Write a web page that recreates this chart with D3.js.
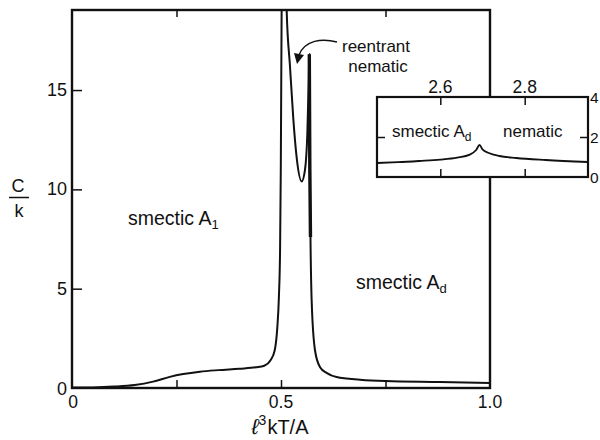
<!DOCTYPE html>
<html>
<head>
<meta charset="utf-8">
<script src="https://cdn.jsdelivr.net/npm/d3@7"></script>
<style>
body{margin:0;background:#fff;}
svg{display:block;}
text{font-family:"Liberation Sans",Arial,sans-serif;fill:#111;}
</style>
</head>
<body>
<svg id="chart" width="600" height="440"></svg>
<script>
// ---- data ----
const mainX = [0,0.05,0.1,0.15,0.194,0.234,0.266,0.306,0.35,0.4,0.44,0.46,0.475,0.485,0.491,0.495,0.4978,0.4995,0.5015,0.505,0.509,0.5136,0.5215,0.5293,0.5375,0.5495,0.5575,0.563,0.5663,0.5677,0.569,0.5705,0.5735,0.5813,0.593,0.61,0.633,0.689,0.75,0.88,1.0];
const mainC = [0.02,0.03,0.07,0.15,0.32,0.56,0.7,0.82,0.9,0.97,1.04,1.12,1.4,1.9,3.0,4.6,7,11,19,24,24,19,16.2,13.6,11.6,10.4,11,12.8,15.4,16.8,11,7.6,4.3,1.9,1.06,0.75,0.55,0.42,0.35,0.3,0.25];
const xTicks = [0,0.5,1.0];
const xTickLabels = ["0","0.5","1.0"];
const xMinorTicks = [0.25,0.5,0.75];
const yTicks = [0,5,10,15];
const yTickLabels = ["0","5","10","15"];

const insetX = [2.45,2.5,2.55,2.6,2.64,2.67,2.685,2.693,2.70,2.715,2.74,2.78,2.85,2.95];
const insetC = [0.7,0.74,0.8,0.87,0.97,1.12,1.35,1.6,1.38,1.2,1.05,0.95,0.85,0.75];
const insetXTicks = [2.6,2.8];
const insetXTickLabels = ["2.6","2.8"];
const insetYTicks = [0,2,4];
const insetYTickLabels = ["0","2","4"];

// ---- layout ----
const svg = d3.select("#chart");
const L = 72, R = 490, T = 10, B = 388;
const x = d3.scaleLinear().domain([0,1]).range([L,R]);
const y = d3.scaleLinear().domain([0,19.03]).range([B,T]);

svg.append("defs").append("clipPath").attr("id","clipMain")
  .append("rect").attr("x",L).attr("y",T).attr("width",R-L).attr("height",B-T);

const mainData = mainX.map((v,i)=>({x:v,c:mainC[i]}));
const line = d3.line().x(d=>x(d.x)).y(d=>y(d.c)).curve(d3.curveMonotoneX);

svg.append("path").datum(mainData).attr("clip-path","url(#clipMain)")
  .attr("d",line).attr("fill","none").attr("stroke","#111").attr("stroke-width",2);
// heavy segment of reentrant nematic spike
svg.append("path").datum(mainData.filter(d=>d.x>=0.5677&&d.x<=0.5705))
  .attr("d",line).attr("fill","none").attr("stroke","#111").attr("stroke-width",3.4);

// frame
svg.append("rect").attr("x",L).attr("y",T).attr("width",R-L).attr("height",B-T)
  .attr("fill","none").attr("stroke","#111").attr("stroke-width",2.4);

// axes
const gx = svg.append("g").attr("transform",`translate(0,${B})`)
  .call(d3.axisTop(x).tickValues(xMinorTicks).tickSize(8).tickFormat(""));
gx.select(".domain").remove();
gx.selectAll("line").attr("stroke","#111").attr("stroke-width",1.5);
const gxt = svg.append("g").attr("transform",`translate(0,${T})`)
  .call(d3.axisBottom(x).tickValues([0.25,0.75]).tickSize(7).tickFormat(""));
gxt.select(".domain").remove();
gxt.selectAll("line").attr("stroke","#111").attr("stroke-width",1.5);
const gy = svg.append("g").attr("transform",`translate(${L},0)`)
  .call(d3.axisRight(y).tickValues([5,10,15]).tickSize(10).tickFormat(""));
gy.select(".domain").remove();
gy.selectAll("line").attr("stroke","#111").attr("stroke-width",1.5);

svg.selectAll(".xlab").data(xTicks).enter().append("text")
  .attr("x",d=>x(d)+(d===0?1:0)).attr("y",B+20).attr("text-anchor","middle")
  .attr("font-size",17.5).text((d,i)=>xTickLabels[i]);
svg.selectAll(".ylab").data(yTicks).enter().append("text")
  .attr("x",L-5).attr("y",d=>y(d)+(d===0?7:6)).attr("text-anchor","end")
  .attr("font-size",18).text((d,i)=>yTickLabels[i]);

// axis titles
const xt = svg.append("text").attr("x",280).attr("y",434).attr("text-anchor","middle").attr("font-size",20);
xt.append("tspan").attr("font-style","italic").attr("font-size",22).text("ℓ");
xt.append("tspan").attr("font-size",14).attr("dy",-9).text("3");
xt.append("tspan").attr("dy",9).attr("dx",1).text("kT/A");

svg.append("text").attr("x",18).attr("y",192).attr("text-anchor","middle").attr("font-size",18).text("C");
svg.append("line").attr("x1",9).attr("x2",29).attr("y1",197.5).attr("y2",197.5).attr("stroke","#111").attr("stroke-width",1.5);
svg.append("text").attr("x",19).attr("y",217).attr("text-anchor","middle").attr("font-size",18).text("k");

// region labels
const t1 = svg.append("text").attr("x",128).attr("y",225).attr("font-size",19.5);
t1.append("tspan").text("smectic A");
t1.append("tspan").attr("font-size",13).attr("dy",4).text("1");
const t2 = svg.append("text").attr("x",356).attr("y",289).attr("font-size",19.5);
t2.append("tspan").text("smectic A");
t2.append("tspan").attr("font-size",13).attr("dy",4).text("d");

svg.append("text").attr("x",376).attr("y",52).attr("text-anchor","middle").attr("font-size",17).text("reentrant");
svg.append("text").attr("x",378).attr("y",72).attr("text-anchor","middle").attr("font-size",17).text("nematic");

// arrow
svg.append("path").attr("d","M337,42 C322,38 305,40 299,55")
  .attr("fill","none").attr("stroke","#111").attr("stroke-width",1.5);
svg.append("path").attr("d","M294,53 L304,55 L297,64 Z").attr("fill","#111");

// ---- inset ----
const iL = 377, iR = 588, iT = 97, iB = 177;
const ix = d3.scaleLinear().domain([2.45,2.95]).range([iL,iR]);
const iy = d3.scaleLinear().domain([0,4]).range([iB,iT]);
svg.append("rect").attr("x",iL).attr("y",iT).attr("width",iR-iL).attr("height",iB-iT)
  .attr("fill","#fff").attr("stroke","#111").attr("stroke-width",2.2);
const insetData = insetX.map((v,i)=>({x:v,c:insetC[i]}));
const iline = d3.line().x(d=>ix(d.x)).y(d=>iy(d.c)).curve(d3.curveMonotoneX);
svg.append("path").datum(insetData).attr("d",iline).attr("fill","none").attr("stroke","#111").attr("stroke-width",1.8);

const ig1 = svg.append("g").attr("transform",`translate(0,${iT})`)
  .call(d3.axisBottom(ix).tickValues(insetXTicks).tickSize(8).tickFormat(""));
const ig2 = svg.append("g").attr("transform",`translate(0,${iB})`)
  .call(d3.axisTop(ix).tickValues(insetXTicks).tickSize(8).tickFormat(""));
const ig3 = svg.append("g").attr("transform",`translate(${iL},0)`)
  .call(d3.axisRight(iy).tickValues([2]).tickSize(8).tickFormat(""));
const ig4 = svg.append("g").attr("transform",`translate(${iR},0)`)
  .call(d3.axisLeft(iy).tickValues([2]).tickSize(8).tickFormat(""));
[ig1,ig2,ig3,ig4].forEach(g=>{g.select(".domain").remove();g.selectAll("line").attr("stroke","#111").attr("stroke-width",1.5);});

svg.selectAll(".ixl").data(insetXTicks).enter().append("text")
  .attr("x",d=>ix(d)).attr("y",iT-4).attr("text-anchor","middle").attr("font-size",17.5)
  .text((d,i)=>insetXTickLabels[i]);
svg.selectAll(".iyl").data(insetYTicks).enter().append("text")
  .attr("x",iR+2).attr("y",d=>iy(d)+6).attr("font-size",15.5)
  .text((d,i)=>insetYTickLabels[i]);

const t3 = svg.append("text").attr("x",392).attr("y",137).attr("font-size",17);
t3.append("tspan").text("smectic A");
t3.append("tspan").attr("font-size",12).attr("dy",4).text("d");
svg.append("text").attr("x",503).attr("y",137).attr("font-size",17).text("nematic");
</script>
</body>
</html>
